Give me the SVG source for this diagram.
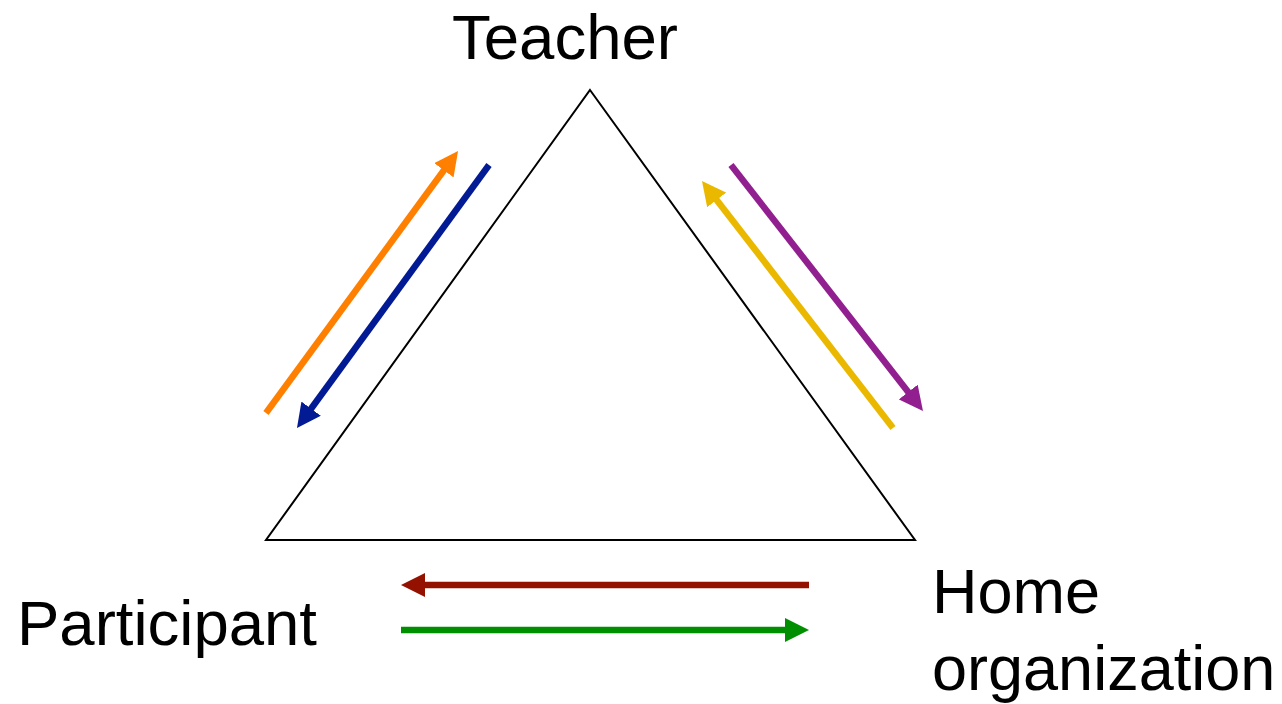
<svg xmlns="http://www.w3.org/2000/svg" width="1282" height="704" viewBox="0 0 1282 704">
<style>
.lbl{font-family:"Liberation Sans",Arial,sans-serif;font-size:63.5px;fill:#000}
.arr{stroke-width:6.5;fill:none}
</style>
<defs>
<marker id="mO" markerUnits="userSpaceOnUse" markerWidth="24" markerHeight="24" viewBox="0 0 24 24" refX="6" refY="12" orient="auto"><path d="M0,0 L24,12 L0,24 z" fill="#FF8000"/></marker>
<marker id="mB" markerUnits="userSpaceOnUse" markerWidth="24" markerHeight="24" viewBox="0 0 24 24" refX="6" refY="12" orient="auto"><path d="M0,0 L24,12 L0,24 z" fill="#021A94"/></marker>
<marker id="mY" markerUnits="userSpaceOnUse" markerWidth="24" markerHeight="24" viewBox="0 0 24 24" refX="6" refY="12" orient="auto"><path d="M0,0 L24,12 L0,24 z" fill="#EBB800"/></marker>
<marker id="mP" markerUnits="userSpaceOnUse" markerWidth="24" markerHeight="24" viewBox="0 0 24 24" refX="6" refY="12" orient="auto"><path d="M0,0 L24,12 L0,24 z" fill="#911F8F"/></marker>
<marker id="mR" markerUnits="userSpaceOnUse" markerWidth="24" markerHeight="24" viewBox="0 0 24 24" refX="6" refY="12" orient="auto"><path d="M0,0 L24,12 L0,24 z" fill="#941100"/></marker>
<marker id="mG" markerUnits="userSpaceOnUse" markerWidth="24" markerHeight="24" viewBox="0 0 24 24" refX="6" refY="12" orient="auto"><path d="M0,0 L24,12 L0,24 z" fill="#008F00"/></marker>
</defs>
<rect width="1282" height="704" fill="#fff"/>
<g id="triangle">
<polygon points="590,90 915,540 266,540" fill="none" stroke="#000" stroke-width="2"/>
</g>
<g id="teacher"><text class="lbl" x="565" y="59" text-anchor="middle">Teacher</text></g>
<g id="participant"><text class="lbl" x="17" y="645">Participant</text></g>
<g id="home-organization"><text class="lbl" x="932" y="613" style="font-size:63px">Home</text><text class="lbl" x="932" y="690" style="font-size:63px">organization</text></g>
<g id="connectors">
<line class="arr" x1="266" y1="413" x2="447.4" y2="165.5" stroke="#FF8000" marker-end="url(#mO)"/>
<line class="arr" x1="489" y1="165" x2="307.6" y2="413.5" stroke="#021A94" marker-end="url(#mB)"/>
<line class="arr" x1="893" y1="428" x2="713" y2="195.2" stroke="#EBB800" marker-end="url(#mY)"/>
<line class="arr" x1="731" y1="165" x2="911.9" y2="396.8" stroke="#911F8F" marker-end="url(#mP)"/>
<line class="arr" x1="809" y1="585" x2="419" y2="585" stroke="#941100" marker-end="url(#mR)"/>
<line class="arr" x1="401" y1="630" x2="791" y2="630" stroke="#008F00" marker-end="url(#mG)"/>
</g>
</svg>
